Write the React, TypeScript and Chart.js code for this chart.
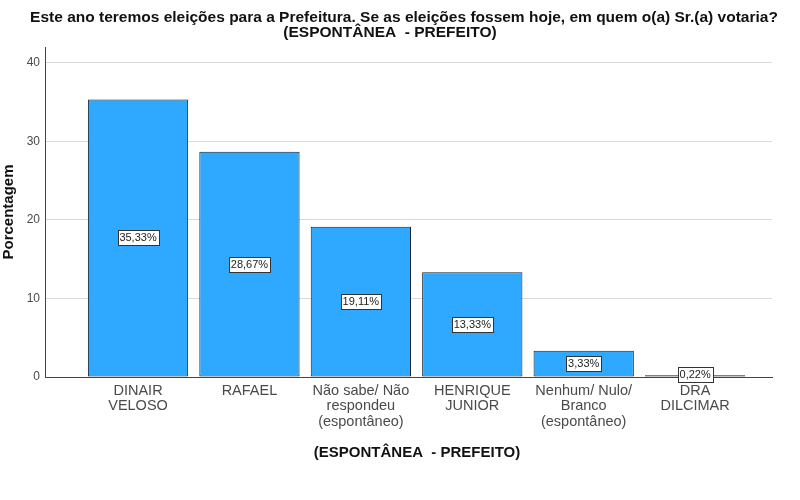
import React, { useEffect, useRef } from "react";
import { Chart, registerables } from "chart.js";

Chart.register(...registerables);

const FONT = "'Liberation Sans', Arial, sans-serif";

const TITLE_LINES = [
  "Este ano teremos eleições para a Prefeitura. Se as eleições fossem hoje, em quem o(a) Sr.(a) votaria?",
  "(ESPONTÂNEA  - PREFEITO)",
];
const X_TITLE = "(ESPONTÂNEA  - PREFEITO)";
const Y_TITLE = "Porcentagem";

const CATEGORIES: string[][] = [
  ["DINAIR", "VELOSO"],
  ["RAFAEL"],
  ["Não sabe/ Não", "respondeu", "(espontâneo)"],
  ["HENRIQUE", "JUNIOR"],
  ["Nenhum/ Nulo/", "Branco", "(espontâneo)"],
  ["DRA", "DILCIMAR"],
];
const VALUES = [35.33, 28.67, 19.11, 13.33, 3.33, 0.22];
const Y_TICKS = [0, 10, 20, 30, 40];

const fmt = (v: number) => v.toFixed(2).replace(".", ",") + "%";

const titlePlugin = {
  id: "spssTitle",
  afterDraw(chart: any) {
    const ctx = chart.ctx;
    ctx.save();
    ctx.fillStyle = "#111";
    ctx.textAlign = "center";
    ctx.textBaseline = "middle";
    ctx.font = `bold 15.5px ${FONT}`;
    ctx.fillText(TITLE_LINES[0], 404, 18);
    ctx.fillText(TITLE_LINES[1], 390, 33);
    ctx.font = `bold 15px ${FONT}`;
    ctx.fillText(X_TITLE, 417, 453);
    ctx.restore();
  },
};

const labelPlugin = {
  id: "barLabels",
  afterDatasetsDraw(chart: any) {
    const ctx = chart.ctx;
    const meta = chart.getDatasetMeta(0);
    ctx.save();
    ctx.font = `11px ${FONT}`;
    ctx.textAlign = "center";
    ctx.textBaseline = "middle";
    meta.data.forEach((bar: any, i: number) => {
      const { x, y, base } = bar.getProps(["x", "y", "base"], true);
      let cy = (y + base) / 2;
      if (base - y < 8) cy = base - 2;
      const text = fmt(VALUES[i]);
      const tw = ctx.measureText(text).width;
      const bw = Math.round(tw + 4);
      const bh = 15;
      const bx = Math.round(x - bw / 2) + 0.5;
      const by = Math.round(cy - bh / 2) + 0.5;
      ctx.fillStyle = "#ffffff";
      ctx.fillRect(bx, by, bw, bh);
      ctx.strokeStyle = "#333";
      ctx.lineWidth = 1;
      ctx.strokeRect(bx, by, bw, bh);
      ctx.fillStyle = "#222";
      ctx.fillText(text, x, cy + 0.5);
    });
    ctx.restore();
  },
};

export default function App() {
  const ref = useRef<HTMLCanvasElement | null>(null);

  useEffect(() => {
    document.body.style.margin = "0";
    const canvas = ref.current;
    if (!canvas) return;
    const chart = new Chart(canvas, {
      type: "bar",
      data: {
        datasets: [
          {
            data: VALUES.map((v, i) => ({ x: i, y: v })) as any,
            backgroundColor: "#2FA8FF",
            borderColor: "#13222f",
            borderWidth: 1,
            borderSkipped: false,
            barPercentage: 0.9,
            categoryPercentage: 1,
          },
        ],
      },
      options: {
        animation: false,
        responsive: false,
        devicePixelRatio: 1,
        layout: { padding: { top: 47, right: 28, bottom: 36, left: 0 } },
        plugins: {
          legend: { display: false },
          tooltip: { enabled: false },
          title: { display: false },
        },
        scales: {
          x: {
            type: "linear",
            min: -0.835,
            max: 5.69,
            offset: false,
            grid: { display: false, drawTicks: false },
            border: { color: "#444", width: 1 },
            afterBuildTicks: (s: any) => {
              s.ticks = CATEGORIES.map((_, i) => ({ value: i }));
            },
            ticks: {
              autoSkip: false,
              maxRotation: 0,
              minRotation: 0,
              padding: 6,
              color: "#4a4a4a",
              font: { family: FONT, size: 14.5, lineHeight: 1.08 },
              callback: (v: any) => CATEGORIES[v] ?? "",
            },
            title: { display: false },
            afterFit: (s: any) => {
              s.height = 87;
            },
          } as any,
          y: {
            min: 0,
            max: 42,
            grid: { color: "#d9d9d9", drawTicks: false },
            border: { color: "#444", width: 1 },
            afterBuildTicks: (s: any) => {
              s.ticks = Y_TICKS.map((v) => ({ value: v }));
            },
            ticks: {
              padding: 5,
              color: "#4a4a4a",
              font: { family: FONT, size: 12 },
            },
            title: {
              display: true,
              text: Y_TITLE,
              color: "#111",
              font: { family: FONT, size: 15, weight: "bold" },
              padding: 0,
            },
            afterFit: (s: any) => {
              s.width = 45;
            },
          } as any,
        },
      },
      plugins: [titlePlugin, labelPlugin],
    });
    return () => chart.destroy();
  }, []);

  return (
    <div style={{ width: 800, height: 500, background: "#fff" }}>
      <canvas ref={ref} width={800} height={500} style={{ display: "block" }} />
    </div>
  );
}
